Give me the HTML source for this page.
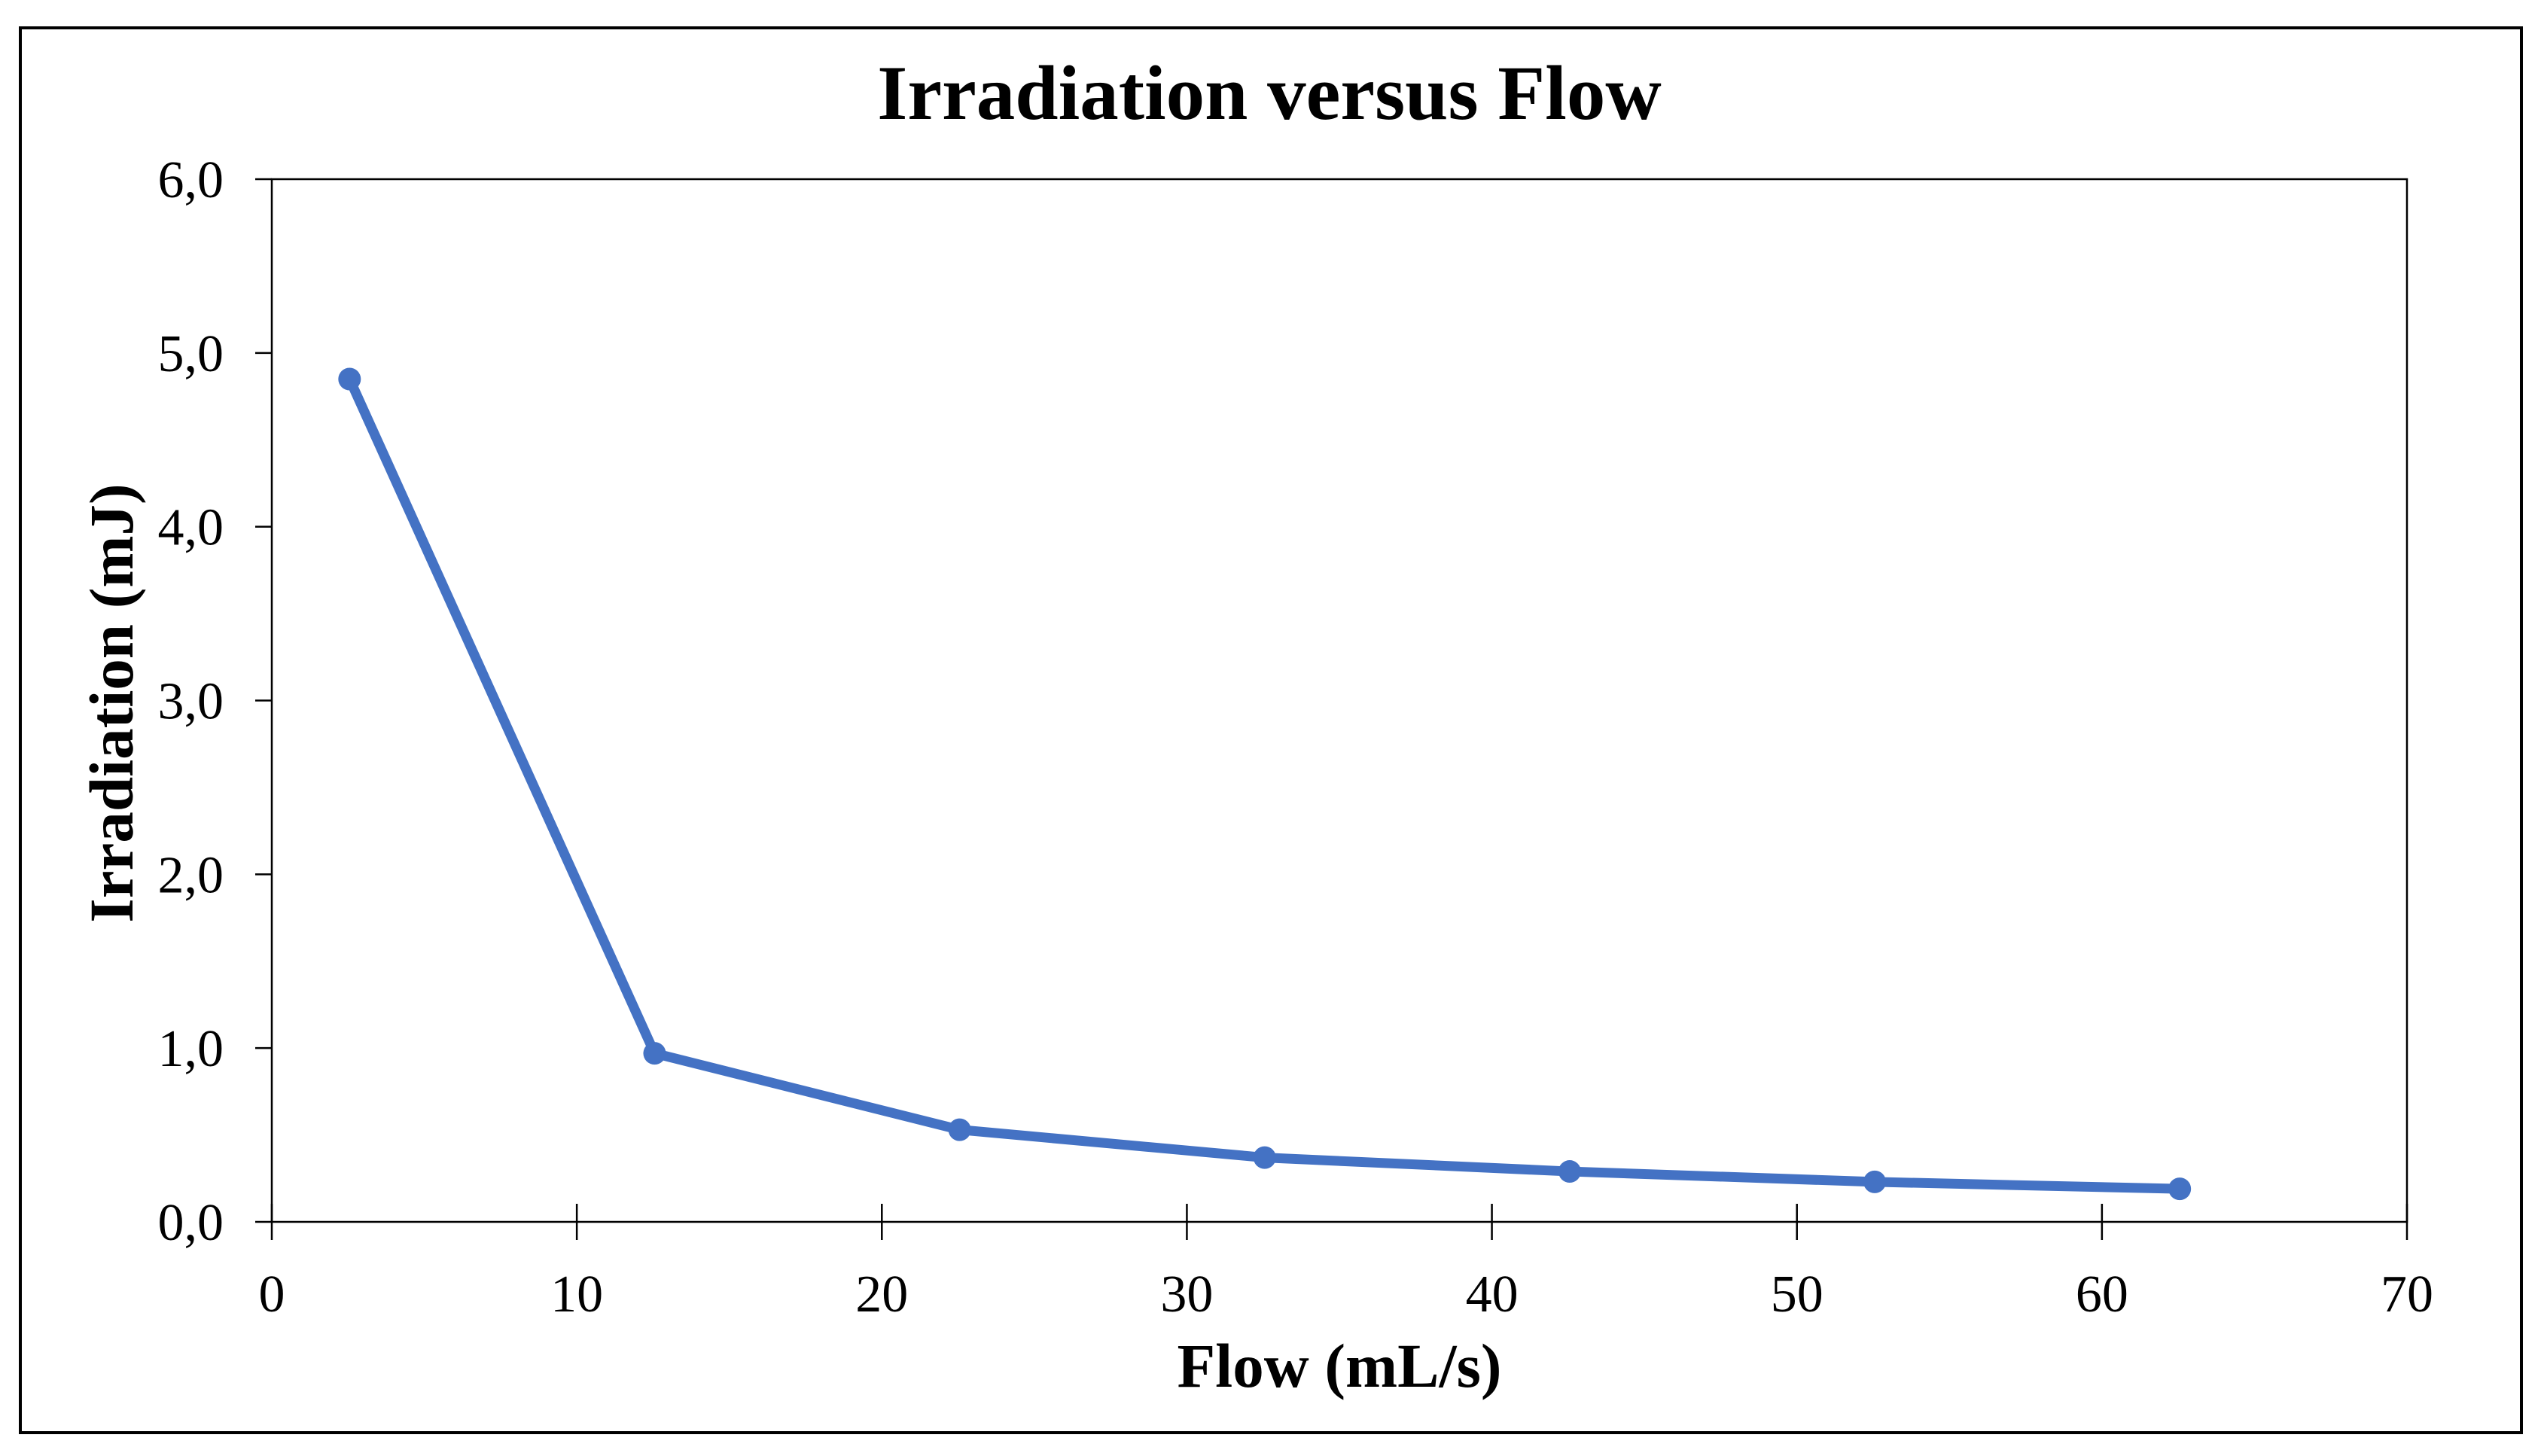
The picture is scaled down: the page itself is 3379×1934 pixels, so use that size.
<!DOCTYPE html>
<html><head><meta charset="utf-8"><style>
html,body{margin:0;padding:0;background:#fff;}
svg{display:block;font-family:"Liberation Serif","Times New Roman",serif;}
</style></head><body>
<svg id="chart" width="3379" height="1934" viewBox="0 0 3379 1934">
<rect x="27" y="37" width="3322" height="1866" fill="#fff" stroke="#000" stroke-width="4"/>
<text x="1686" y="158" text-anchor="middle" font-size="103" font-weight="bold">Irradiation versus Flow</text>
<rect x="361" y="238" width="2836" height="1385" fill="none" stroke="#000" stroke-width="2.5"/>
<g id="axes"></g>
<g id="series"></g>
<text x="1779" y="1842" text-anchor="middle" font-size="83" font-weight="bold">Flow (mL/s)</text>
<text transform="translate(176,934) rotate(-90)" text-anchor="middle" font-size="83" font-weight="bold">Irradiation (mJ)</text>
</svg>
<script>
const flows = [2.55, 12.55, 22.55, 32.55, 42.55, 52.55, 62.55];
const irradiation = [4.85, 0.97, 0.53, 0.37, 0.29, 0.23, 0.19];
const xTicks = [0, 10, 20, 30, 40, 50, 60, 70];
const yTicks = [0, 1, 2, 3, 4, 5, 6];
const yTickLabels = ["0,0","1,0","2,0","3,0","4,0","5,0","6,0"];

const X0=361, X1=3197, Y0=1623, Y1=238;
const sx = v => X0 + (v - 0) / 70 * (X1 - X0);
const sy = v => Y0 - (v - 0) / 6 * (Y0 - Y1);
const NS="http://www.w3.org/2000/svg";
const axes=document.getElementById('axes');
const series=document.getElementById('series');

xTicks.forEach(t=>{
  const l=document.createElementNS(NS,'line');
  l.setAttribute('x1',sx(t));l.setAttribute('x2',sx(t));
  l.setAttribute('y1',Y0-24);l.setAttribute('y2',Y0+24);
  l.setAttribute('stroke','#000');l.setAttribute('stroke-width','2.5');
  
  
  axes.appendChild(l);
  const tx=document.createElementNS(NS,'text');
  tx.setAttribute('x',sx(t));tx.setAttribute('y',1742);
  tx.setAttribute('text-anchor','middle');tx.setAttribute('font-size','70');
  tx.textContent=t;
  
  
  axes.appendChild(tx);
});
yTicks.forEach((t,i)=>{
  const l=document.createElementNS(NS,'line');
  l.setAttribute('x1',X0-22);l.setAttribute('x2',X0);
  l.setAttribute('y1',sy(t));l.setAttribute('y2',sy(t));
  l.setAttribute('stroke','#000');l.setAttribute('stroke-width','2.5');
  
  
  axes.appendChild(l);
  const tx=document.createElementNS(NS,'text');
  tx.setAttribute('x',297);tx.setAttribute('y',sy(t)+24);
  tx.setAttribute('text-anchor','end');tx.setAttribute('font-size','70');
  tx.textContent=yTickLabels[i];
  
  
  axes.appendChild(tx);
});
const p=document.createElementNS(NS,'polyline');
p.setAttribute('points',flows.map((f,i)=>sx(f)+','+sy(irradiation[i])).join(' '));
p.setAttribute('fill','none');p.setAttribute('stroke','#4472C4');
p.setAttribute('stroke-width','13');p.setAttribute('stroke-linejoin','round');


series.appendChild(p);
flows.forEach((f,i)=>{
  const c=document.createElementNS(NS,'circle');
  c.setAttribute('cx',sx(f));c.setAttribute('cy',sy(irradiation[i]));
  c.setAttribute('r',15);c.setAttribute('fill','#4472C4');
  
  
  series.appendChild(c);
});
</script>
</body></html>
